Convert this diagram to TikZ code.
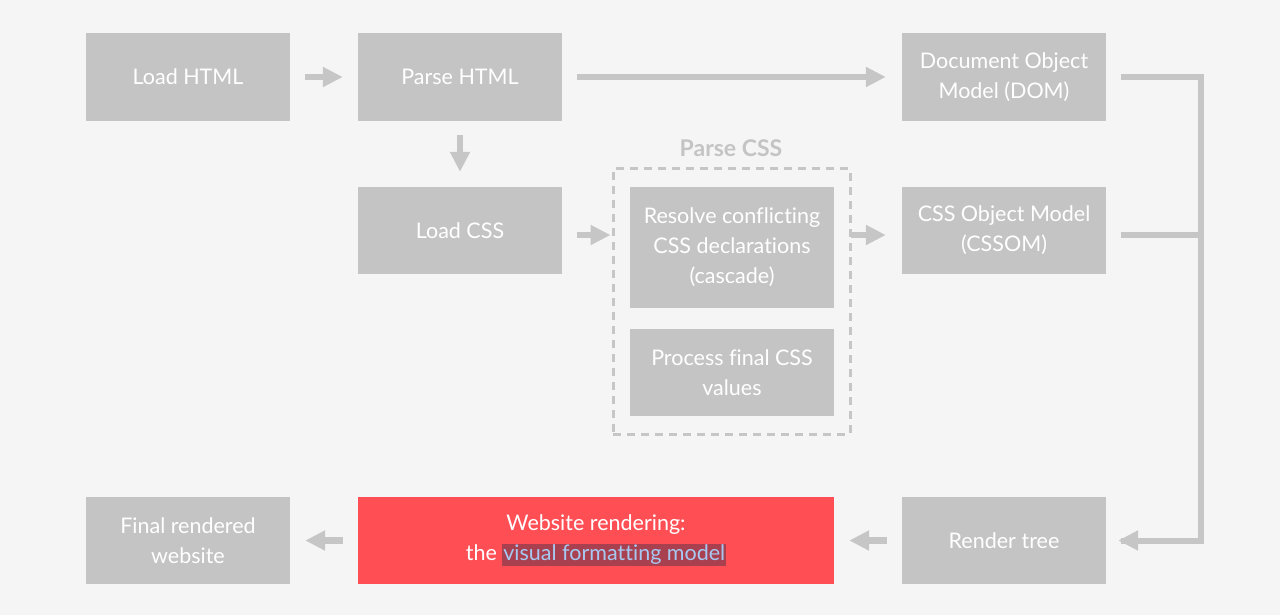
\documentclass[tikz,border=0pt]{standalone}
\usepackage{fontspec}
\setmainfont[Ligatures=NoCommon]{Lato}
\usetikzlibrary{arrows.meta,calc}
\definecolor{bg}{HTML}{F5F5F5}
\definecolor{boxgray}{HTML}{C4C4C4}
\definecolor{linegray}{HTML}{C6C6C6}
\definecolor{redbox}{HTML}{FF4F55}
\definecolor{hlbg}{HTML}{A8404F}
\definecolor{hltext}{HTML}{A6C8F2}
\tikzset{
  box/.style={fill=boxgray, text=white, align=center, inner sep=0pt,
    minimum width=204pt, font=\fontsize{21.5}{30}\selectfont},
  redstyle/.style={box, fill=redbox, minimum width=476pt},
  conn/.style={draw=linegray, line width=6.5pt,
    -{Triangle[length=20pt,width=19pt]}},
  busline/.style={draw=linegray, line width=6pt, miter limit=10},
}
\begin{document}
\begin{tikzpicture}[x=1pt,y=-1pt]
\useasboundingbox (0,0) rectangle (1280,615);
\fill[bg] (0,0) rectangle (1280,615);
% top row
\node[box, minimum height=88pt] (lh) at (188,77) {Load HTML};
\node[box, minimum height=88pt] (ph) at (460,77) {Parse HTML};
\node[box, minimum height=88pt] (dom) at (1004,77) {Document Object\\Model (DOM)};
% middle
\node[box, minimum height=87pt] (lc) at (460,230.5) {Load CSS};
\node[box, minimum height=121pt] (rc) at (732,247.5) {Resolve conflicting\\CSS declarations\\(cascade)};
\node[box, minimum height=87pt] (pf) at (732,372.5) {Process final CSS\\values};
\node[box, minimum height=87pt] (cssom) at (1004,230.5) {CSS Object Model\\(CSSOM)};
\node[draw=linegray, line width=3pt, dash pattern=on 8pt off 6pt,
  minimum width=237pt, minimum height=265pt, inner sep=0pt] (pcss) at (731.5,301.5) {};
\node[text=boxgray, font=\fontsize{23}{26}\selectfont\bfseries] (pcsslabel) at (731,148) {Parse CSS};
% bottom row
\node[box, minimum height=87pt] (fr) at (188,540.5) {Final rendered\\website};
\node[redstyle, minimum height=87pt] (wr) at (596,540.5) {Website rendering:\\the {\setlength\fboxsep{1pt}\colorbox{hlbg}{\textcolor{hltext}{visual formatting model}}}};
\node[box, minimum height=87pt] (rt) at (1004,540.5) {Render tree};
% bus coordinate
\coordinate (bus) at (1201,0);
% connectors
\draw[conn, shorten <=15pt, shorten >=15pt] (lh) -- (ph);
\draw[conn, shorten <=15pt, shorten >=16pt] (ph) -- (dom);
\draw[conn, shorten <=14pt, shorten >=15pt] (ph) -- (lc);
\draw[conn, shorten <=15pt, shorten >=1pt] (lc.east |- 0,235) -- (pcss.west |- 0,235);
\draw[conn, shorten <=-1pt, shorten >=16pt] (pcss.east |- 0,235) -- (cssom.west |- 0,235);
\draw[busline, shorten <=15pt] (dom.east) -- (dom.east -| bus) -- (rt.east -| bus) -- ($(rt.east)+(15,0)$);
\draw[conn, line width=6pt] ($(rt.east)+(20,0)$) -- ($(rt.east)+(12,0)$);
\draw[busline, shorten <=15pt, shorten >=-3pt] (cssom.east |- 0,235) -- (bus |- 0,235);
\draw[conn, shorten <=15pt, shorten >=15pt] (rt) -- (wr);
\draw[conn, shorten <=15pt, shorten >=15pt] (wr) -- (fr);
\end{tikzpicture}
\end{document}
